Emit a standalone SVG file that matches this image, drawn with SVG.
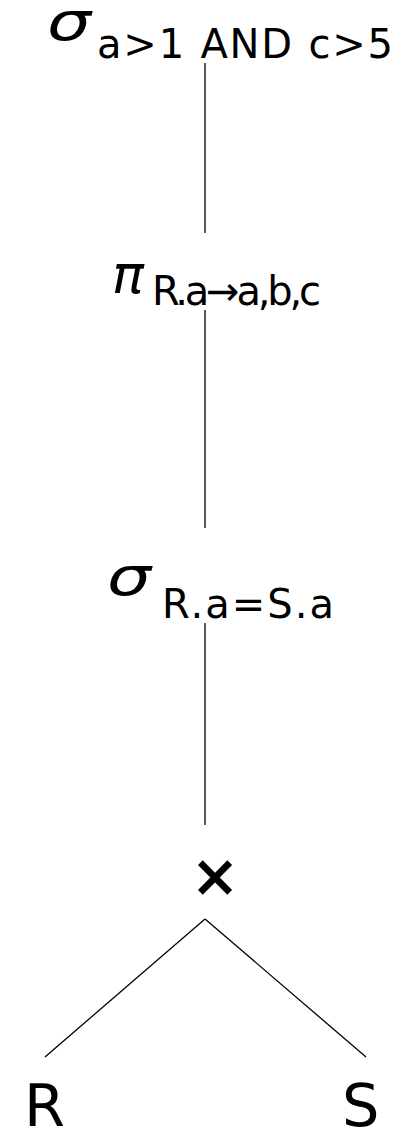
<svg xmlns="http://www.w3.org/2000/svg" width="408" height="1132" viewBox="0 0 408 1132">
<style>
.t{font-family:"DejaVu Sans",Verdana,sans-serif;fill:#000}
.g{font-style:italic;font-size:53px}
.s{font-size:40px}
.b{font-size:59px}
.e{stroke:#000;stroke-width:1.3;fill:none}
</style>
<rect width="408" height="1132" fill="#fff"/>
<g id="sel1"><text class="t g" x="47" y="40" textLength="44" lengthAdjust="spacingAndGlyphs">σ</text><text class="t s" x="97" y="58" textLength="296" lengthAdjust="spacing">a&gt;1 AND c&gt;5</text></g>
<g id="proj"><text class="t g" x="112" y="293">π</text><text class="t s" x="152" y="305" textLength="169" lengthAdjust="spacing">R.a→a,b,c</text></g>
<g id="sel2"><text class="t g" x="107" y="595" textLength="44" lengthAdjust="spacingAndGlyphs">σ</text><text class="t s" x="162" y="618" textLength="172" lengthAdjust="spacing">R.a=S.a</text></g>
<g id="cross"><text class="t" x="215" y="896" font-size="58" font-weight="bold" text-anchor="middle">×</text></g>
<g id="R"><text class="t b" x="24" y="1126">R</text></g>
<g id="S"><text class="t b" x="342" y="1126">S</text></g>
<g id="edges">
<line class="e" x1="205" y1="63" x2="205" y2="233"/>
<line class="e" x1="205" y1="310" x2="205" y2="528"/>
<line class="e" x1="205" y1="623" x2="205" y2="825"/>
<line class="e" x1="205" y1="919" x2="45" y2="1057"/>
<line class="e" x1="205" y1="919" x2="366" y2="1057"/>
</g>
</svg>
